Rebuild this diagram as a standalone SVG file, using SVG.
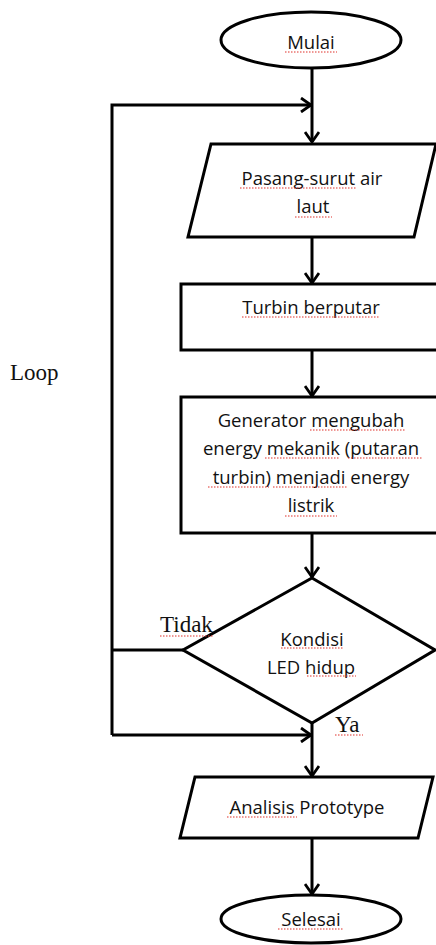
<svg xmlns="http://www.w3.org/2000/svg" width="436" height="945" viewBox="0 0 436 945">
<defs>
<style>
.shape{fill:#fff;stroke:#000;stroke-width:3}
.conn{fill:none;stroke:#000;stroke-width:3}
.t{font-family:"Open Sans","Noto Sans",sans-serif;font-size:18.5px;fill:#111;text-anchor:middle}
.s{font-family:"Liberation Serif","Times New Roman",serif;font-size:23px;fill:#111}
.sp{fill:none;stroke:#e0302a;stroke-width:1.2;stroke-dasharray:1.5 1.5}
</style>
<marker id="arr" viewBox="0 0 12 16" refX="11" refY="8" markerWidth="12" markerHeight="16" markerUnits="userSpaceOnUse" orient="auto">
<path d="M1,1 L11,8 L1,15" fill="none" stroke="#000" stroke-width="2.8"/>
</marker>
</defs>
<rect width="436" height="945" fill="#fff"/>
<g id="connectors">
<path class="conn" d="M312,69 V142" marker-end="url(#arr)"/>
<path class="conn" d="M183,650 H112"/>
<path class="conn" d="M112,735 V105 H311" marker-end="url(#arr)"/>
<path class="conn" d="M112,735 H311" marker-end="url(#arr)"/>
<path class="conn" d="M312,237 V283" marker-end="url(#arr)"/>
<path class="conn" d="M312,350 V396" marker-end="url(#arr)"/>
<path class="conn" d="M312,533 V577" marker-end="url(#arr)"/>
<path class="conn" d="M312,723 V776" marker-end="url(#arr)"/>
<path class="conn" d="M312,838 V894" marker-end="url(#arr)"/>
</g>
<g id="mulai">
<ellipse class="shape" cx="311" cy="40" rx="90" ry="28"/>
<text class="t" x="311" y="49">Mulai</text>
<path class="sp" d="M285,52 H337"/>
</g>
<g id="pasang-surut">
<polygon class="shape" points="211,144 436,144 414,237 188,237"/>
<text class="t" x="312" y="185">Pasang-surut air</text>
<text class="t" x="313" y="213">laut</text>
<path class="sp" d="M240,188 H357 M295,217 H332"/>
</g>
<g id="turbin">
<rect class="shape" x="181" y="284" width="270" height="66"/>
<text class="t" x="311" y="314">Turbin berputar</text>
<path class="sp" d="M242,317 H380"/>
</g>
<g id="generator">
<rect class="shape" x="181" y="397" width="270" height="136"/>
<text class="t" x="311" y="427">Generator mengubah</text>
<text class="t" x="311" y="455">energy mekanik (putaran</text>
<text class="t" x="311" y="484">turbin) menjadi energy</text>
<text class="t" x="311" y="512">listrik</text>
<path class="sp" d="M310,430 H406 M265,458 H340 M348,458 H423 M208,487 H269 M273,487 H347 M285,516 H337"/>
</g>
<g id="kondisi">
<polygon class="shape" points="312,578 435,650 312,723 183,650"/>
<text class="t" x="312" y="646">Kondisi</text>
<text class="t" x="311" y="674">LED hidup</text>
<path class="sp" d="M281,648 H343 M307,676 H356"/>
</g>
<g id="analisis">
<polygon class="shape" points="195,777 433,777 418,838 180,838"/>
<text class="t" x="307" y="814">Analisis Prototype</text>
<path class="sp" d="M227,817 H297"/>
</g>
<g id="selesai">
<ellipse class="shape" cx="311" cy="919" rx="90" ry="24"/>
<text class="t" x="311" y="926">Selesai</text>
<path class="sp" d="M278,929 H344"/>
</g>
<g id="labels">
<text class="s" x="10" y="380">Loop</text>
<text class="s" x="160" y="632">Tidak</text>
<path class="sp" d="M160,636 H213"/>
<text class="s" x="335" y="732">Ya</text>
<path class="sp" d="M335,735 H363"/>
</g>
</svg>
